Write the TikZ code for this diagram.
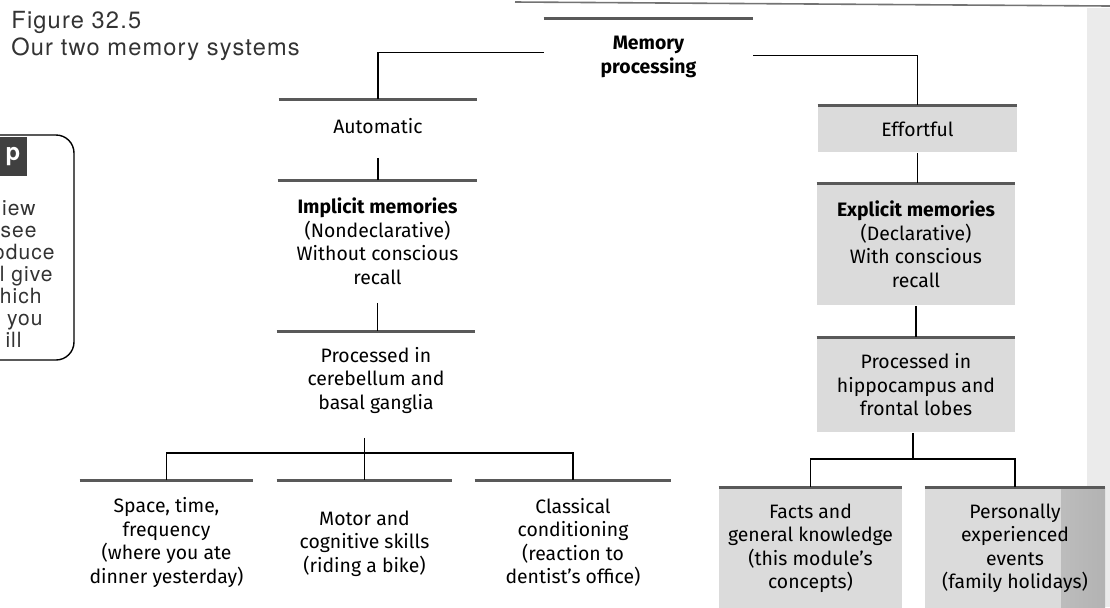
\documentclass[tikz,border=0pt]{standalone}
\usepackage{fontspec}
\setmainfont{Fira Sans}
\newfontfamily\headfont[LetterSpace=5]{TeX Gyre Heros}
\usepackage{tikz}
\definecolor{scangray}{gray}{0.86}
\definecolor{rulegray}{gray}{0.35}
\newcommand\boxfont{\fontsize{9.7}{11.75}\selectfont}

\begin{document}
\begin{tikzpicture}[x=0.5pt, y=-0.5pt,
  memnode/.style={font=\boxfont, align=center, inner sep=0pt, anchor=north},
  shadednode/.style={memnode, fill=scangray},
  rule/.style={rulegray, line width=1.5pt},
  link/.style={line width=0.9pt},
  headtext/.style={font=\headfont\fontsize{11.8}{14}\selectfont, text=black!80, inner sep=0pt, anchor=base west},
  tiptext/.style={font=\headfont\fontsize{10.5}{12}\selectfont, text=black!80, inner sep=0pt, anchor=mid east}]
\useasboundingbox (0,0) rectangle (1110,607);
\clip (0,0) rectangle (1110,607);

% page edge
\fill[black!8] (1087,8) rectangle (1110,607);
\draw[black!55, line width=0.8pt] (515,2) -- (1110,6);

% caption
\node[headtext] (fignum) at (11,28) {Figure 32.5};
\node[headtext] (figcap) at (11,55) {Our two memory systems};

% tip box, cut at the page edge
\draw[line width=0.7pt, rounded corners=9pt] (-20,135) -- (74,135) -- (74,360) -- (-20,360);
\fill[black!75] (-2,137) rectangle (27,176);
\node[font=\headfont\bfseries\fontsize{12}{12}\selectfont, text=white, inner sep=0pt] (tipicon) at (13,157) {p};
\foreach \t/\x/\y [count=\i] in {iew/36/210, see/37/232, oduce/55/254, ll give/53/276, hich/42/298, s you/43/320, ill/22/342}
  \node[tiptext] (tip\i) at (\x,\y) {\t};

% top
\node[memnode, font=\boxfont\bfseries, minimum width=104.5pt, minimum height=38.5pt] (proc) at (648.5,18) {Memory\\processing};

% automatic branch
\node[memnode, minimum width=99pt, minimum height=27pt] (auto) at (378,99) {Automatic};
\node[memnode, minimum width=99.5pt, minimum height=61pt] (impl) at (377.5,180)
  {{\bfseries Implicit memories}\\(Nondeclarative)\\Without conscious\\recall};
\node[memnode, minimum width=99pt, minimum height=49pt] (cereb) at (376,331)
  {Processed in\\cerebellum and\\basal ganglia};
\node[memnode, minimum width=86.5pt, minimum height=62pt] (space) at (166.5,480)
  {Space, time,\\frequency\\(where you ate\\dinner yesterday)};
\node[memnode, minimum width=87.5pt, minimum height=63pt] (motor) at (364.5,480)
  {Motor and\\cognitive skills\\(riding a bike)};
\node[memnode, minimum width=98pt, minimum height=62pt] (class) at (573,480)
  {Classical\\conditioning\\(reaction to\\dentist’s office)};

% effortful branch
\node[shadednode, minimum width=99.5pt, minimum height=23.5pt] (effort) at (917.5,105) {Effortful};
\node[shadednode, minimum width=99pt, minimum height=61pt] (expl) at (916,183)
  {{\bfseries Explicit memories}\\(Declarative)\\With conscious\\recall};
\node[shadednode, minimum width=99pt, minimum height=47.5pt] (hippo) at (916,337)
  {Processed in\\hippocampus and\\frontal lobes};
\node[shadednode, minimum width=91.5pt, minimum height=61pt] (facts) at (810.5,487)
  {Facts and\\general knowledge\\(this module’s\\concepts)};
\node[shadednode, minimum width=90pt, minimum height=61pt,
  path picture={\shade[left color=scangray, right color=black!30]
    ([xshift=-22pt]path picture bounding box.north east) rectangle (path picture bounding box.south east);}]
  (pers) at (1015,487)
  {Personally\\experienced\\events\\(family holidays)};

\foreach \n in {proc,auto,impl,cereb,space,motor,class,effort,expl,hippo,facts,pers}
  \draw[rule] (\n.north west) -- (\n.north east);

% connectors
\coordinate (lbar) at (364.5,453);
\coordinate (rbar) at (913,459);
\draw[link] ([yshift=2.25pt]proc.west) -| (auto.north);
\draw[link] ([yshift=0.75pt]proc.east) -| (effort.north);
\draw[link] ([yshift=-2pt]auto.south) -- (auto.south |- impl.north);
\draw[link] (impl.south) -- (impl.south |- cereb.north);
\draw[link] ([yshift=-4pt]cereb.south -| motor.north) -- (motor.north);
\draw[link] (space.north) |- (lbar) -| (class.north);
\draw[link] (effort.south) -- (effort.south |- expl.north);
\draw[link] (expl.south) -- (expl.south |- hippo.north);
\draw[link] (hippo.south -| rbar) -- (rbar);
\draw[link] (facts.north) |- (rbar) -| (pers.north);
\end{tikzpicture}
\end{document}
